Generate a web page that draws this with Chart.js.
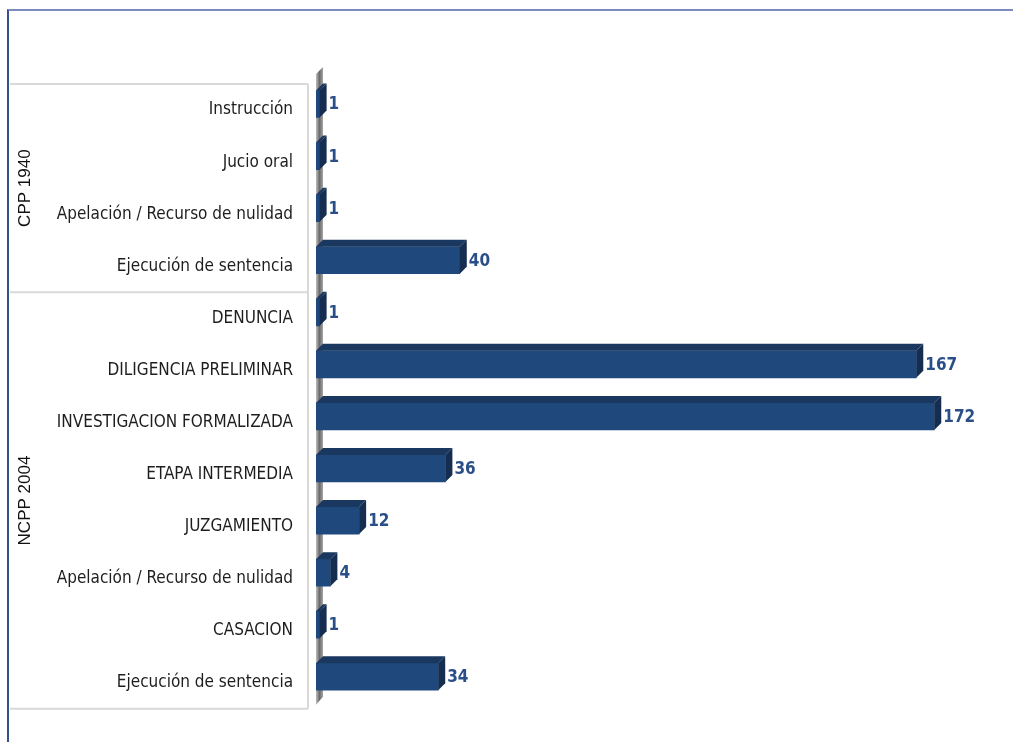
<!DOCTYPE html>
<html>
<head>
<meta charset="utf-8">
<script src="https://cdn.jsdelivr.net/npm/chart.js@4/dist/chart.umd.min.js"></script>
<style>
    body { margin: 0; background: #fff; }
    #wrap { position: relative; width: 1013px; height: 742px; }
    #frame {
        position: absolute; left: 7px; top: 9px; right: 0; bottom: 0;
        border-top: 2px solid #7b8cbd;
        border-left: 2px solid #34508f;
        pointer-events: none;
    }
</style>
</head>
<body>
<div id="wrap">
    <canvas id="canvas"></canvas>
    <div id="frame"></div>
</div>
<script>
var categories = [
    'Instrucción',
    'Jucio oral',
    'Apelación / Recurso de nulidad',
    'Ejecución de sentencia',
    'DENUNCIA',
    'DILIGENCIA PRELIMINAR',
    'INVESTIGACION FORMALIZADA',
    'ETAPA INTERMEDIA',
    'JUZGAMIENTO',
    'Apelación / Recurso de nulidad',
    'CASACION',
    'Ejecución de sentencia'
];
var values = [1, 1, 1, 40, 1, 167, 172, 36, 12, 4, 1, 34];
var groupNames = ['CPP 1940', 'NCPP 2004'];
var groupSizes = [4, 8];

var DEPTH = 7;
var SHIFT = -6;
var NARROW = '"Liberation Sans Narrow", "DejaVu Sans Condensed", sans-serif';

// caja 3D: cara superior, lateral, pared del eje y etiquetas
const bar3d = {
    id: 'bar3d',
    beforeDatasetsDraw(chart) {
        const ctx = chart.ctx;
        const area = chart.chartArea;
        const x0 = chart.scales.x.getPixelForValue(0);
        // pared gris del eje
        const g = ctx.createLinearGradient(x0, 0, x0 + DEPTH, 0);
        g.addColorStop(0, '#bdbdbd');
        g.addColorStop(0.5, '#6a6a6a');
        g.addColorStop(1, '#a6a6a6');
        ctx.save();
        ctx.fillStyle = g;
        ctx.beginPath();
        ctx.moveTo(x0, area.top - 10);
        ctx.lineTo(x0 + DEPTH, area.top - 17);
        ctx.lineTo(x0 + DEPTH, area.bottom - 12);
        ctx.lineTo(x0, area.bottom - 4);
        ctx.closePath();
        ctx.fill();
        ctx.restore();

        ctx.save();
        ctx.translate(0, SHIFT);
    },
    afterDatasetsDraw(chart) {
        const ctx = chart.ctx;
        ctx.restore();
        const meta = chart.getDatasetMeta(0);
        ctx.save();
        meta.data.forEach(function(bar, i) {
            const p = bar.getProps(['x', 'y', 'base', 'height'], true);
            const top = p.y - p.height / 2 + SHIFT;
            const bottom = p.y + p.height / 2 + SHIFT;
            // cara superior
            ctx.fillStyle = '#1a3760';
            ctx.beginPath();
            ctx.moveTo(p.base, top);
            ctx.lineTo(p.x, top);
            ctx.lineTo(p.x + DEPTH, top - DEPTH);
            ctx.lineTo(p.base + DEPTH, top - DEPTH);
            ctx.closePath();
            ctx.fill();
            // cara lateral
            ctx.fillStyle = '#152d50';
            ctx.beginPath();
            ctx.moveTo(p.x, top);
            ctx.lineTo(p.x + DEPTH, top - DEPTH);
            ctx.lineTo(p.x + DEPTH, bottom - DEPTH);
            ctx.lineTo(p.x, bottom);
            ctx.closePath();
            ctx.fill();
            // etiqueta de valor
            ctx.fillStyle = '#2a4f88';
            ctx.font = 'bold 17px ' + NARROW;
            ctx.textAlign = 'left';
            ctx.textBaseline = 'middle';
            ctx.fillText(values[i], p.x + DEPTH + 2, p.y + SHIFT + 1);
        });
        ctx.restore();
    },
    afterDraw(chart) {
        const ctx = chart.ctx;
        const area = chart.chartArea;
        const y = chart.scales.y;
        const lineRight = area.left - 8;
        ctx.save();
        ctx.strokeStyle = '#d9d9d9';
        ctx.lineWidth = 2;
        // bordes de la tabla de grupos
        var start = 0;
        var bounds = [area.top];
        groupSizes.forEach(function(n) {
            start += n;
            if (start < categories.length) {
                bounds.push((y.getPixelForValue(start - 1) + y.getPixelForValue(start)) / 2);
            }
        });
        bounds.push(area.bottom);
        bounds.forEach(function(b) {
            ctx.beginPath();
            ctx.moveTo(10, b);
            ctx.lineTo(lineRight, b);
            ctx.stroke();
        });
        ctx.beginPath();
        ctx.moveTo(lineRight, area.top);
        ctx.lineTo(lineRight, area.bottom);
        ctx.stroke();

        // nombres de grupo, rotados
        ctx.fillStyle = '#111';
        ctx.font = '17px "Liberation Sans", Arial, sans-serif';
        ctx.textAlign = 'center';
        ctx.textBaseline = 'middle';
        start = 0;
        groupNames.forEach(function(name, gi) {
            const first = y.getPixelForValue(start);
            const last = y.getPixelForValue(start + groupSizes[gi] - 1);
            const mid = (first + last) / 2;
            ctx.save();
            ctx.translate(25, mid);
            ctx.rotate(-Math.PI / 2);
            ctx.fillText(name, 0, 0);
            ctx.restore();
            start += groupSizes[gi];
        });
        ctx.restore();
    }
};

function renderChart() {
    const ctx = document.getElementById('canvas').getContext('2d');
    new Chart(ctx, {
        type: 'bar',
        data: {
            labels: categories,
            datasets: [{
                data: values,
                backgroundColor: '#1f487c',
                borderWidth: 0,
                barThickness: 27
            }]
        },
        options: {
            indexAxis: 'y',
            responsive: true,
            maintainAspectRatio: false,
            animation: false,
            layout: {
                padding: { top: 84, bottom: 32, left: 0, right: 50 }
            },
            plugins: {
                legend: { display: false },
                tooltip: { enabled: false }
            },
            scales: {
                x: {
                    display: false,
                    min: 0,
                    max: 180
                },
                y: {
                    grid: { display: false, drawTicks: false },
                    border: { display: false },
                    ticks: {
                        padding: 23,
                        color: '#1e1e1e',
                        font: { family: NARROW, size: 17 }
                    },
                    afterFit: function(scale) {
                        scale.width = 316;
                    }
                }
            }
        },
        plugins: [bar3d]
    });
}

renderChart();
</script>
</body>
</html>
